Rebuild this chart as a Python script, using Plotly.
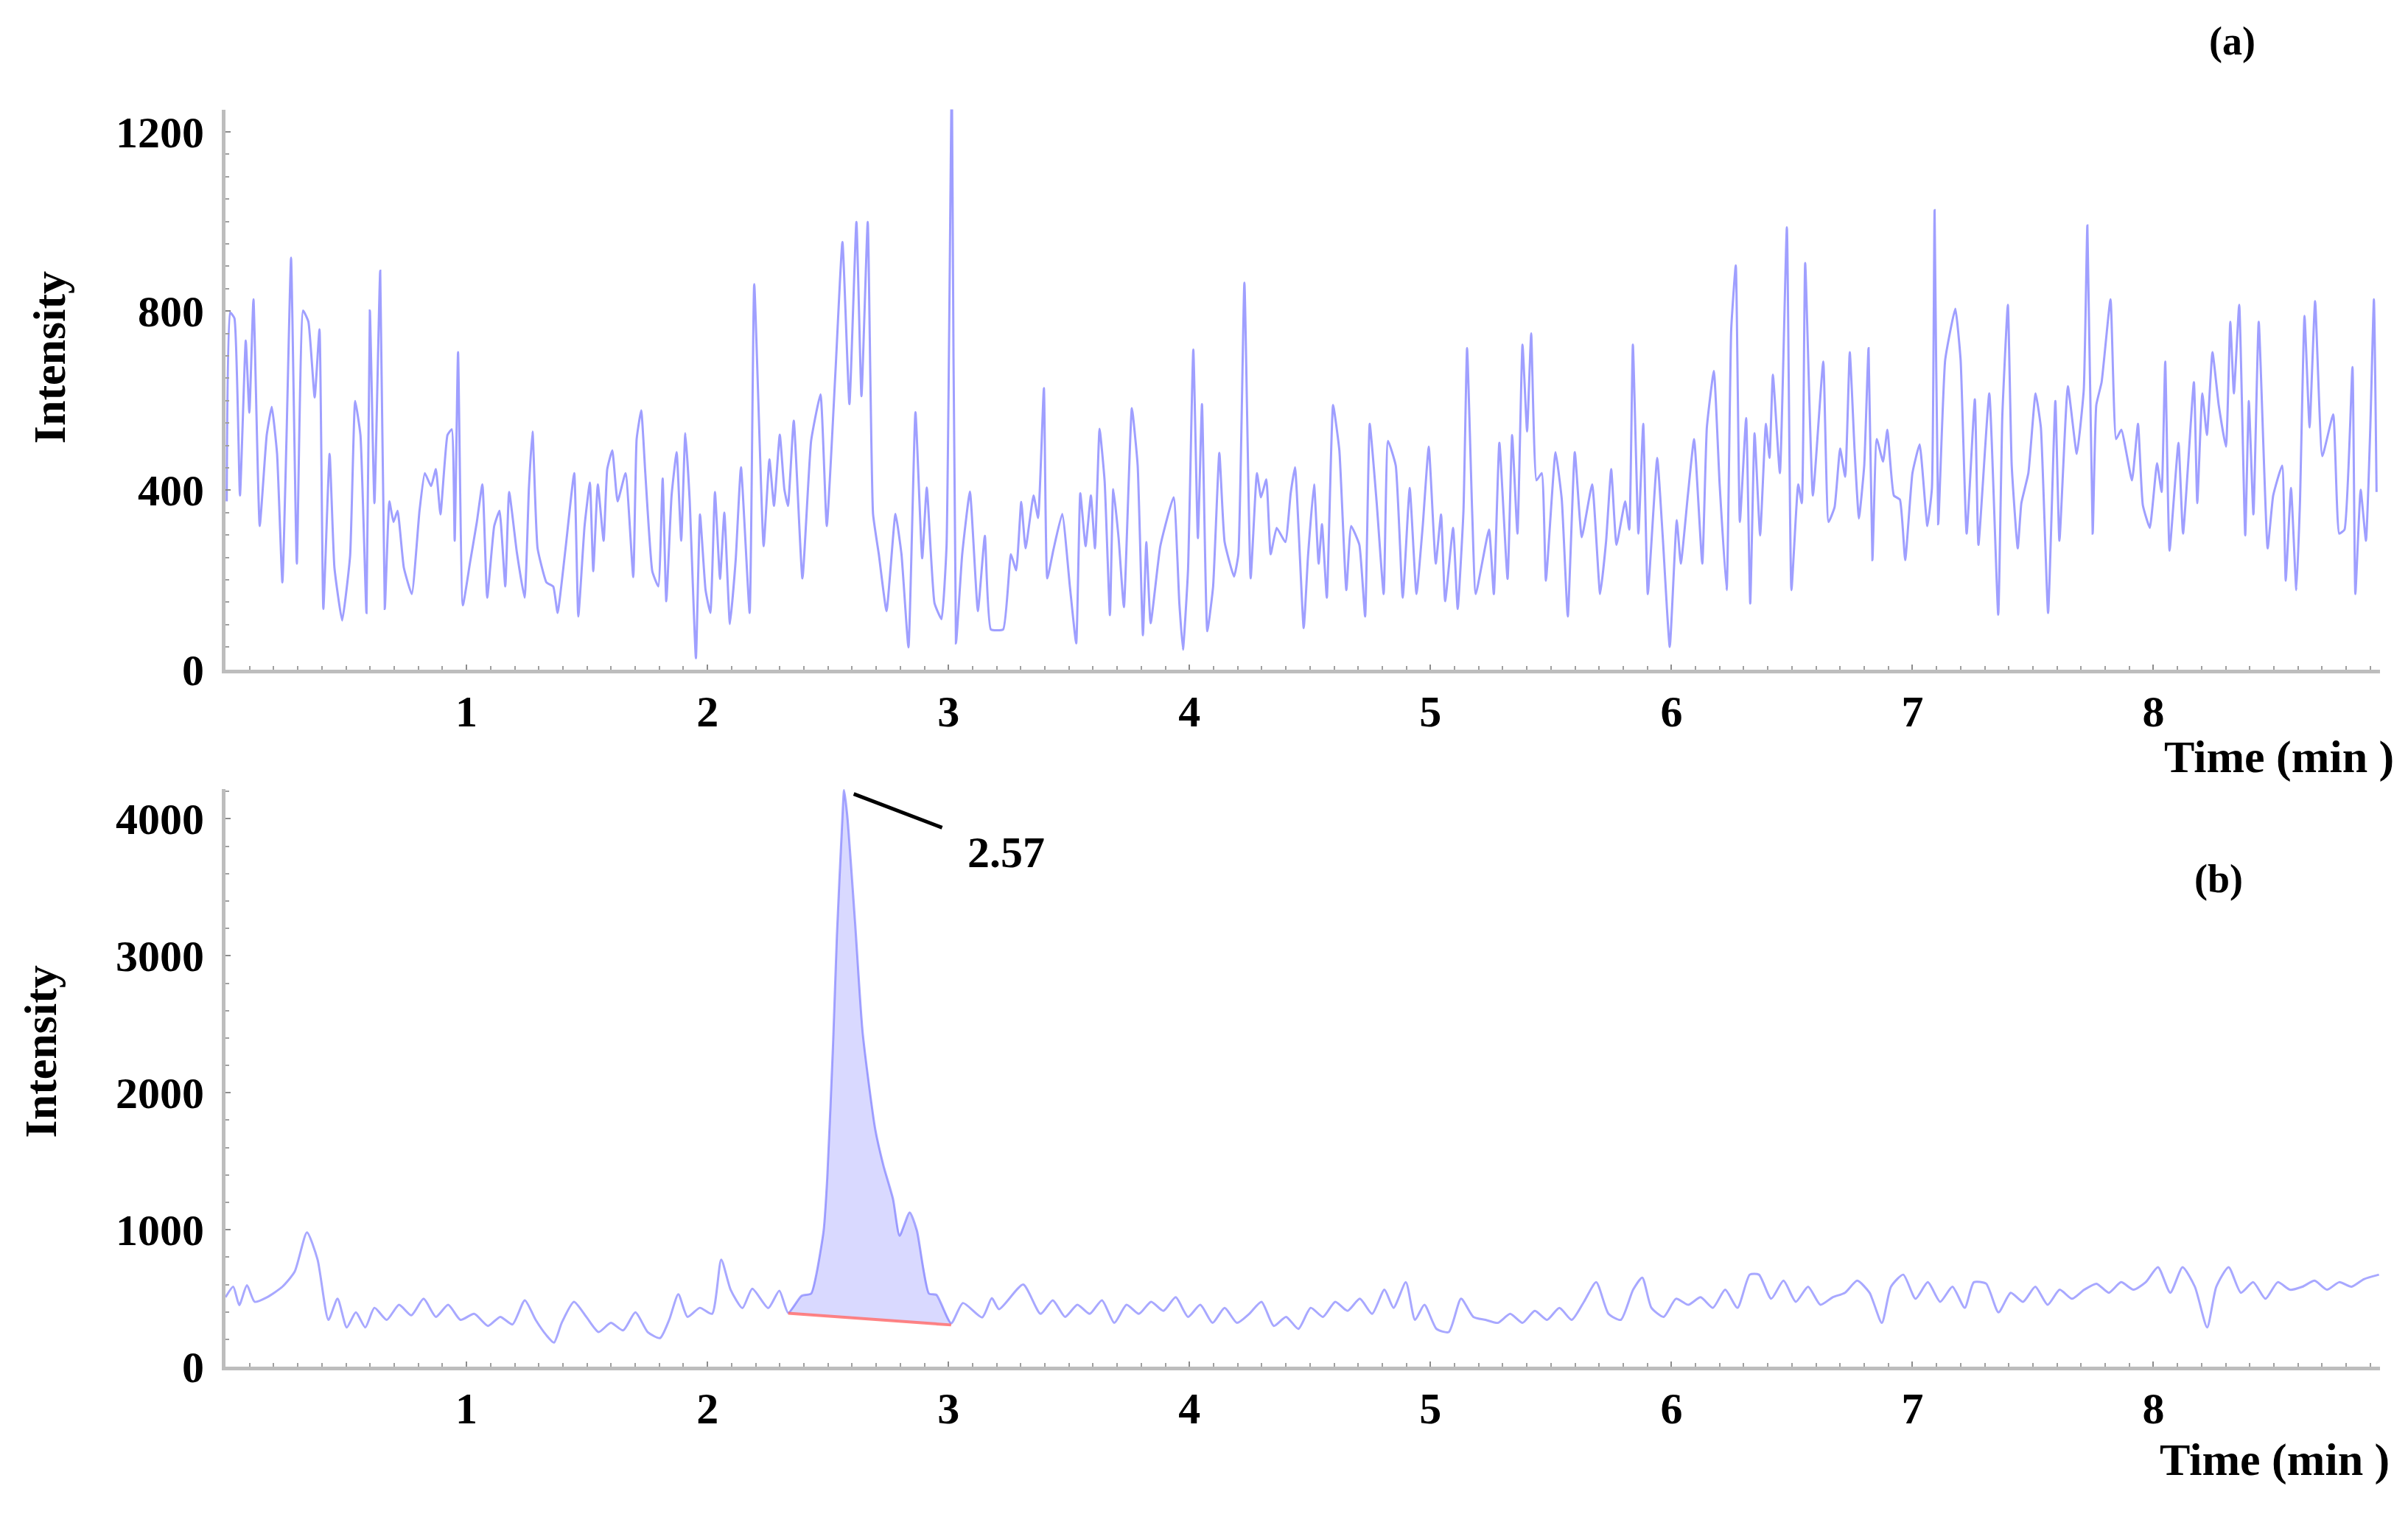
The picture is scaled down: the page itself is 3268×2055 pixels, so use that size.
"""Two stacked chromatograms: (a) blank noise trace, (b) sample with peak at 2.57 min."""

import plotly.graph_objects as go


# ---- panel (a): noise chromatogram ------------------------------------------

time_a1 = [0.005, 0.019, 0.037, 0.060, 0.084, 0.099, 0.116, 0.142, 0.171, 0.192,
           0.214, 0.236, 0.253, 0.272, 0.296, 0.322, 0.344, 0.370, 0.390, 0.406,
           0.432, 0.452, 0.484, 0.517, 0.538, 0.560, 0.585, 0.599, 0.618, 0.642,
           0.661, 0.680, 0.697, 0.714, 0.740, 0.773, 0.805, 0.827, 0.853, 0.873,
           0.892, 0.921, 0.939, 0.951, 0.965, 0.985, 1.014, 1.043, 1.066, 1.086,
           1.115, 1.137, 1.161, 1.177, 1.209, 1.241, 1.259, 1.274, 1.295, 1.332,
           1.360, 1.378, 1.411, 1.447, 1.464, 1.490, 1.512, 1.526, 1.545, 1.569,
           1.584, 1.605, 1.627, 1.660, 1.692, 1.706, 1.725, 1.742, 1.771, 1.796,
           1.814, 1.829, 1.851, 1.872, 1.891, 1.908, 1.926, 1.952, 1.969, 1.992,
           2.012, 2.031, 2.052, 2.070, 2.093, 2.117, 2.139, 2.175, 2.194]
int_a1 = [375, 797, 784, 388, 734, 573, 826, 320, 523, 586,
          481, 194, 514, 919, 236, 801, 776, 607, 759, 135,
          481, 227, 109, 253, 599, 523, 126, 801, 371, 890,
          135, 375, 329, 354, 227, 168, 354, 438, 409, 447,
          346, 523, 536, 287, 708, 143, 236, 329, 413, 160,
          320, 354, 185, 396, 261, 160, 405, 531, 270, 194,
          185, 126, 270, 438, 118, 320, 417, 219, 413, 287,
          447, 489, 375, 438, 206, 514, 578, 438, 219, 185,
          426, 152, 388, 485, 287, 527, 379, 25, 346, 177,
          126, 396, 202, 350, 101, 244, 451, 126, 860]

time_a2 = [2.233, 2.257, 2.276, 2.300, 2.319, 2.334, 2.358, 2.394, 2.430, 2.469,
           2.495, 2.531, 2.560, 2.589, 2.618, 2.639, 2.665, 2.687, 2.711, 2.743,
           2.780, 2.805, 2.834, 2.863, 2.891, 2.910, 2.942, 2.971, 2.992, 3.014,
           3.031, 3.057, 3.089, 3.122, 3.151, 3.176, 3.227, 3.259, 3.281, 3.302,
           3.320, 3.353, 3.372, 3.396, 3.410, 3.435, 3.472, 3.504, 3.530, 3.547,
           3.569, 3.591, 3.608, 3.627, 3.648, 3.670, 3.684, 3.706, 3.728, 3.761,
           3.785, 3.807, 3.821, 3.839, 3.879, 3.934, 3.958, 3.973, 3.994, 4.016,
           4.035, 4.052, 4.074, 4.098, 4.124, 4.146, 4.185, 4.203, 4.228, 4.254,
           4.280, 4.297, 4.319, 4.337, 4.362, 4.398, 4.420]
int_a2 = [275, 469, 365, 524, 402, 365, 555, 203, 510, 614,
          320, 664, 954, 592, 999, 610, 999, 347, 257, 130,
          347, 257, 49, 574, 248, 406, 148, 112, 275, 1329,
          58, 257, 397, 130, 298, 89, 89, 257, 221, 374,
          270, 388, 338, 628, 203, 266, 347, 184, 58, 393,
          275, 388, 270, 537, 420, 121, 402, 293, 139, 583,
          456, 76, 284, 103, 275, 384, 148, 44, 221, 714,
          293, 592, 85, 184, 483, 284, 207, 257, 863, 203,
          438, 384, 424, 257, 316, 284, 393]

time_a3 = [4.438, 4.474, 4.492, 4.517, 4.536, 4.550, 4.570, 4.596, 4.622, 4.651,
           4.671, 4.705, 4.729, 4.748, 4.777, 4.806, 4.824, 4.856, 4.885, 4.914,
           4.942, 4.968, 4.993, 5.022, 5.044, 5.061, 5.094, 5.113, 5.137, 5.152,
           5.173, 5.188, 5.243, 5.263, 5.286, 5.320, 5.339, 5.361, 5.382, 5.401,
           5.418, 5.440, 5.462, 5.479, 5.519, 5.545, 5.570, 5.599, 5.628, 5.671,
           5.704, 5.729, 5.750, 5.772, 5.808, 5.825, 5.840, 5.863, 5.883, 5.902,
           5.941, 5.964, 5.993, 6.022, 6.039, 6.068, 6.094, 6.128, 6.147, 6.176,
           6.200, 6.229, 6.248, 6.267, 6.284, 6.310, 6.327, 6.345, 6.368, 6.392,
           6.407, 6.421, 6.450, 6.479, 6.498, 6.526, 6.541, 6.555, 6.587, 6.630,
           6.652]
int_a3 = [451, 92, 253, 413, 236, 324, 160, 590, 489, 177,
          320, 278, 118, 548, 371, 168, 510, 455, 160, 405,
          168, 320, 497, 236, 346, 152, 316, 135, 354, 717,
          354, 168, 312, 168, 506, 202, 523, 303, 725, 531,
          750, 422, 438, 198, 485, 379, 118, 485, 295, 413,
          168, 287, 447, 278, 375, 312, 725, 303, 548, 168,
          472, 295, 50, 333, 236, 388, 514, 236, 540, 666,
          413, 177, 759, 902, 329, 561, 147, 527, 299, 548,
          472, 658, 438, 987, 177, 413, 371, 907, 388, 687,
          329]

time_a4 = [6.677, 6.700, 6.721, 6.740, 6.760, 6.778, 6.800, 6.818, 6.834, 6.852,
           6.878, 6.896, 6.923, 6.948, 6.970, 7.000, 7.030, 7.062, 7.081, 7.092,
           7.107, 7.136, 7.178, 7.200, 7.225, 7.259, 7.274, 7.319, 7.356, 7.373,
           7.396, 7.412, 7.437, 7.452, 7.481, 7.511, 7.533, 7.563, 7.593, 7.610,
           7.645, 7.682, 7.711, 7.726, 7.748, 7.763, 7.785, 7.822, 7.845, 7.867,
           7.911, 7.936, 7.956, 7.985, 8.015, 8.034, 8.049, 8.067, 8.104, 8.123,
           8.168, 8.182, 8.203, 8.222, 8.245, 8.271, 8.301, 8.319, 8.334, 8.356,
           8.381, 8.396, 8.415, 8.437, 8.474, 8.497, 8.534, 8.549, 8.571, 8.593,
           8.608, 8.627, 8.648, 8.671, 8.701, 8.746, 8.771, 8.793, 8.826, 8.838,
           8.860, 8.882, 8.900, 8.915, 8.926]
int_a4 = [362, 493, 430, 708, 489, 337, 455, 717, 244, 514,
          464, 535, 388, 379, 244, 438, 502, 320, 405, 1025,
          324, 691, 805, 691, 303, 603, 278, 616, 122, 565,
          814, 455, 270, 371, 438, 616, 540, 126, 599, 287,
          632, 481, 624, 991, 303, 590, 641, 826, 514, 535,
          422, 548, 367, 316, 460, 396, 687, 265, 506, 303,
          641, 371, 616, 523, 708, 590, 497, 776, 616, 814,
          299, 599, 346, 776, 270, 388, 455, 198, 405, 177,
          371, 789, 540, 822, 476, 569, 303, 312, 675, 168,
          401, 287, 540, 826, 396]

# ---- panel (b): sample chromatogram ------------------------------------------

time_b = [0.000, 0.032, 0.057, 0.089, 0.121, 0.172, 0.236, 0.287, 0.338, 0.382,
          0.427, 0.465, 0.503, 0.541, 0.580, 0.618, 0.669, 0.720, 0.771, 0.822,
          0.873, 0.924, 0.975, 1.032, 1.089, 1.140, 1.191, 1.242, 1.287, 1.331,
          1.363, 1.395, 1.446, 1.497, 1.548, 1.599, 1.650, 1.701, 1.752, 1.803,
          1.841, 1.879, 1.917, 1.968, 2.019, 2.057, 2.096, 2.145, 2.186, 2.252,
          2.298, 2.335, 2.390, 2.430, 2.452, 2.482, 2.497, 2.521, 2.537, 2.558,
          2.567, 2.580, 2.613, 2.644, 2.696, 2.730, 2.770, 2.797, 2.839, 2.869,
          2.919, 2.950, 3.011, 3.060, 3.140, 3.180, 3.210, 3.310, 3.382, 3.433,
          3.484, 3.535, 3.586, 3.637, 3.688, 3.739, 3.790, 3.841, 3.892, 3.943,
          3.994, 4.045, 4.096, 4.146, 4.197, 4.248, 4.299, 4.350, 4.401, 4.452,
          4.503, 4.554, 4.605, 4.656, 4.707, 4.758, 4.809, 4.847, 4.898, 4.936,
          4.975, 5.025, 5.076, 5.127, 5.178, 5.229, 5.280, 5.331, 5.382, 5.433,
          5.484, 5.535, 5.586, 5.637, 5.688, 5.739, 5.790, 5.841, 5.879, 5.917,
          5.968, 6.019, 6.070, 6.121, 6.172, 6.223, 6.274, 6.325, 6.363, 6.414,
          6.465, 6.516, 6.567, 6.618, 6.669, 6.720, 6.771, 6.822, 6.873, 6.911,
          6.962, 7.013, 7.064, 7.115, 7.166, 7.217, 7.255, 7.306, 7.357, 7.408,
          7.459, 7.510, 7.561, 7.611, 7.662, 7.713, 7.764, 7.815, 7.866, 7.917,
          7.968, 8.019, 8.070, 8.121, 8.172, 8.223, 8.261, 8.312, 8.363, 8.414,
          8.465, 8.516, 8.567, 8.618, 8.669, 8.720, 8.771, 8.822, 8.873, 8.936]
intensity_b = [507, 584, 450, 595, 474, 507, 584, 694, 981, 782,
               342, 496, 287, 397, 287, 430, 342, 452, 375, 496,
               364, 452, 342, 386, 298, 364, 309, 485, 342, 231,
               176, 320, 474, 364, 253, 320, 265, 397, 253, 209,
               342, 529, 364, 430, 386, 782, 562, 428, 569, 428,
               555, 393, 517, 534, 677, 994, 1380, 2353, 3147, 3940,
               4209, 4024, 3231, 2438, 1735, 1470, 1224, 957, 1126, 994,
               534, 525, 317, 465, 360, 500, 420, 600, 386, 485,
               364, 452, 386, 485, 320, 452, 386, 474, 408, 507,
               364, 452, 320, 430, 320, 386, 474, 298, 364, 276,
               430, 364, 474, 408, 496, 386, 562, 430, 617, 342,
               452, 276, 253, 496, 364, 342, 320, 386, 320, 408,
               342, 430, 342, 474, 617, 386, 342, 562, 650, 430,
               364, 496, 452, 507, 430, 562, 430, 672, 672, 496,
               628, 474, 584, 452, 507, 540, 628, 540, 320, 584,
               672, 496, 617, 474, 584, 430, 617, 606, 397, 540,
               474, 584, 452, 562, 496, 562, 606, 540, 617, 562,
               617, 727, 540, 727, 584, 287, 584, 727, 540, 617,
               496, 617, 562, 584, 628, 562, 617, 584, 639, 672]

# integration baseline under the 2.57 min peak
baseline_time = [2.335, 3.011]
baseline_int = [390, 305]

peak_label = "2.57"
x_ticks = [1, 2, 3, 4, 5, 6, 7, 8]
y_ticks_a = [0, 400, 800, 1200]
y_ticks_b = [0, 1000, 2000, 3000, 4000]

time_a = time_a1 + time_a2 + time_a3 + time_a4
intensity_a = int_a1 + int_a2 + int_a3 + int_a4
assert len(time_a) == len(intensity_a)
assert len(time_b) == len(intensity_b)


# ---- styling -----------------------------------------------------------------

FONT = "Liberation Serif"
AXIS_GREY = "#bdbdbd"

# integrated area: trace points between baseline ends, closed along baseline
area_t = [t for t in time_b if baseline_time[0] <= t <= baseline_time[1]]
area_v = [v for t, v in zip(time_b, intensity_b) if baseline_time[0] <= t <= baseline_time[1]]
area_t += baseline_time[::-1]
area_v += baseline_int[::-1]

fig = go.Figure()
fig.add_trace(go.Scatter(
    x=time_a, y=intensity_a, mode="lines",
    line=dict(color="rgba(95,95,255,0.6)", width=3, shape="spline", smoothing=0.4),
    xaxis="x", yaxis="y",
))
fig.add_trace(go.Scatter(
    x=area_t, y=area_v, mode="lines", fill="toself",
    fillcolor="rgba(208,208,255,0.8)", line=dict(width=0),
    xaxis="x2", yaxis="y2",
))
fig.add_trace(go.Scatter(
    x=time_b, y=intensity_b, mode="lines",
    line=dict(color="rgba(110,110,255,0.6)", width=3, shape="spline", smoothing=0.6),
    xaxis="x2", yaxis="y2",
))
fig.add_trace(go.Scatter(
    x=baseline_time, y=baseline_int, mode="lines",
    line=dict(color="rgba(255,110,110,0.85)", width=4), xaxis="x2", yaxis="y2",
))

tick_font = dict(family=FONT, size=60, color="black", weight="bold")


def x_axis(anchor):
    return dict(
        domain=[0.0912, 0.9859], range=[0, 8.94], anchor=anchor,
        tickvals=x_ticks, showgrid=False, zeroline=False,
        showline=True, linecolor=AXIS_GREY, linewidth=5,
        ticks="inside", ticklen=7, tickwidth=2, tickcolor="#8c8c8c",
        minor=dict(ticks="inside", dtick=0.1, tick0=0, ticklen=5, tickwidth=2, tickcolor="#a0a0a0"),
        ticklabelstandoff=0,
        tickfont=tick_font,
    )


def y_axis(anchor, domain, top, ticks, minor_step):
    return dict(
        domain=domain, range=[0, top], anchor=anchor,
        tickvals=ticks, showgrid=False, zeroline=False,
        showline=True, linecolor=AXIS_GREY, linewidth=5,
        ticks="inside", ticklen=7, tickwidth=2, tickcolor="#8c8c8c",
        minor=dict(ticks="inside", dtick=minor_step, tick0=0, ticklen=5, tickwidth=2, tickcolor="#a0a0a0"),
        ticklabelstandoff=12,
        tickfont=tick_font,
    )


def label(text, x, y, size=62, angle=0, xanchor="center"):
    return dict(text=text, x=x, y=y, xref="paper", yref="paper", textangle=angle,
                xanchor=xanchor, yanchor="middle", showarrow=False,
                font=dict(family=FONT, size=size, color="black", weight="bold"))


peak_i = intensity_b.index(max(intensity_b))

fig.update_layout(
    width=3268, height=2055,
    margin=dict(l=0, r=0, t=0, b=0),
    paper_bgcolor="white", plot_bgcolor="white",
    showlegend=False,
    font=dict(family=FONT, color="black"),
    xaxis=x_axis("y"),
    yaxis=y_axis("x", [0.5547, 0.9309], 1250, y_ticks_a, 50),
    xaxis2=x_axis("y2"),
    yaxis2=y_axis("x2", [0.0861, 0.4745], 4220, y_ticks_b, 200),
    annotations=[
        label("Intensity", 0.0179, 0.7645, angle=-90),
        label("Intensity", 0.0145, 0.298, angle=-90),
        label("Time (min )", 0.9925, 0.4958, xanchor="right"),
        label("Time (min )", 0.9905, 0.0233, xanchor="right"),
        label("(a)", 0.9247, 0.9767, size=54),
        label("(b)", 0.9189, 0.414, size=54),
        dict(text=peak_label, x=time_b[peak_i], y=intensity_b[peak_i], xref="x2", yref="y2",
             showarrow=True, arrowhead=0, arrowwidth=5, arrowcolor="black",
             ax=220, ay=84, standoff=14, borderpad=34,
             font=dict(family=FONT, size=60, color="black", weight="bold")),
    ],
)

fig.write_html("out.html")
